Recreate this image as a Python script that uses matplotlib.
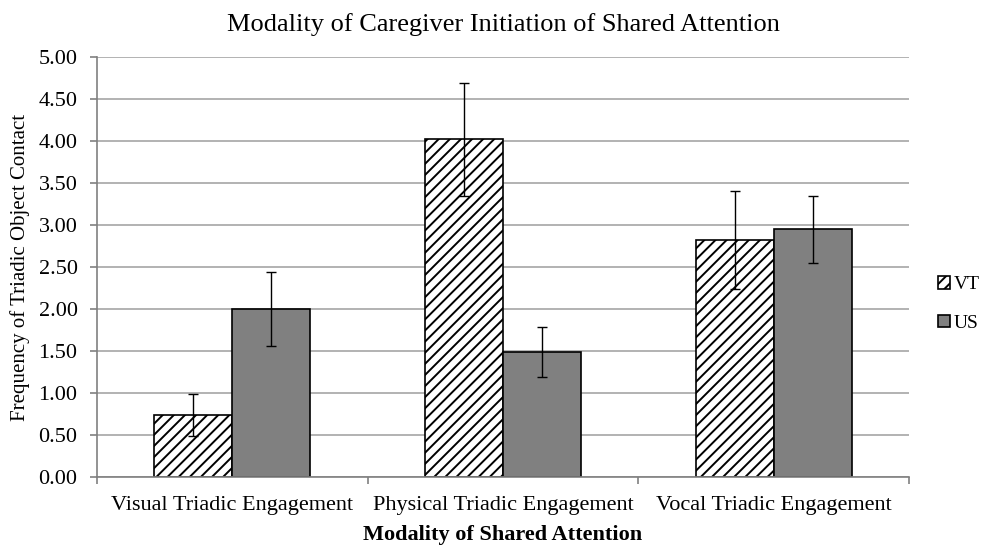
import numpy as np
import matplotlib.pyplot as plt

plt.rcParams['font.family'] = ['Liberation Serif', 'DejaVu Serif']
plt.rcParams['hatch.color'] = '#555555'
plt.rcParams['hatch.linewidth'] = 1.4

categories = ['Visual Triadic Engagement', 'Physical Triadic Engagement', 'Vocal Triadic Engagement']
vt_mean = [0.74, 4.02, 2.82]
vt_err = [0.25, 0.67, 0.58]
us_mean = [2.00, 1.49, 2.95]
us_err = [0.44, 0.30, 0.40]

fig = plt.figure(figsize=(9.87, 5.46), dpi=100)
ax = fig.add_axes([0.0983, 0.1264, 0.8227, 0.7692])

x = np.arange(len(categories))
w = 0.288

ax.bar(x - w/2, vt_mean, w, color='white', edgecolor='black', linewidth=1.2,
       hatch='///', label='VT', zorder=2)
ax.bar(x + w/2, us_mean, w, color='#808080', edgecolor='black', linewidth=1.2,
       label='US', zorder=2)
ax.errorbar(x - w/2, vt_mean, yerr=vt_err, fmt='none', ecolor='black',
            elinewidth=1, capsize=3.5, capthick=1, zorder=3)
ax.errorbar(x + w/2, us_mean, yerr=us_err, fmt='none', ecolor='black',
            elinewidth=1, capsize=3.5, capthick=1, zorder=3)

ax.set_xlim(-0.5, 2.5)
ax.set_ylim(0, 5)
yt = np.arange(0, 5.01, 0.5)
ax.set_yticks(yt)
ax.set_yticklabels(['%.2f' % v for v in yt])
ax.yaxis.grid(True, color='#a6a6a6', linewidth=1.2, zorder=0)
ax.set_axisbelow(True)

# category labels centred, ticks on the boundaries
ax.set_xticks([-0.5, 0.5, 1.5, 2.5])
ax.set_xticklabels([])
ax.set_xticks(x, minor=True)
ax.set_xticklabels(categories, minor=True, fontsize=16)
ax.tick_params(axis='x', which='minor', length=0, pad=14)
ax.tick_params(axis='x', which='major', length=5, color='#808080', width=1.2)
ax.tick_params(axis='y', length=5, color='#808080', width=1.2, labelsize=16, pad=9)

for s in ['top', 'right']:
    ax.spines[s].set_visible(False)
for s in ['left', 'bottom']:
    ax.spines[s].set_color('#808080')
    ax.spines[s].set_linewidth(1.2)

ax.set_xlabel('Modality of Shared Attention', fontsize=16, fontweight='bold', labelpad=7)
ax.set_ylabel('Frequency of Triadic Object Contact', fontsize=15, labelpad=6)
ax.set_title('Modality of Caregiver Initiation of Shared Attention', fontsize=19, pad=19)

fig.legend(loc='center left', bbox_to_anchor=(0.9503, 0.4432), frameon=False,
           borderpad=0, borderaxespad=0,
           fontsize=14, handlelength=0.6, handleheight=0.6, handletextpad=0.2,
           labelspacing=1.1)

fig.savefig('out.png', dpi=100)
